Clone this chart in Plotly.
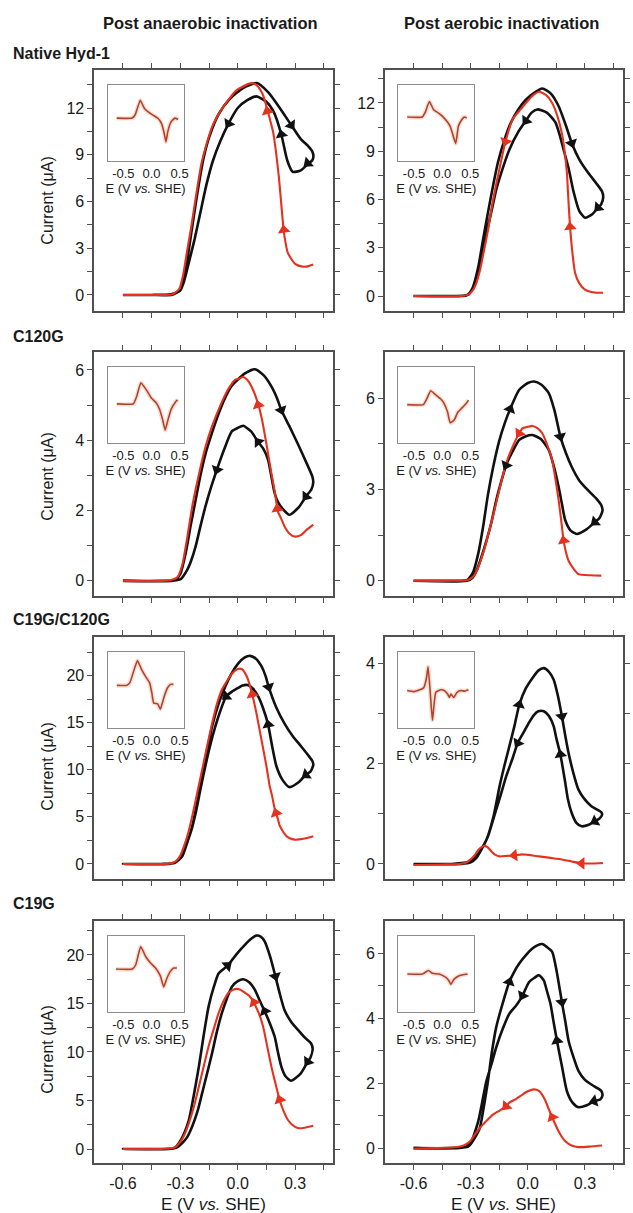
import math
import plotly.graph_objects as go

W, H = 633, 1213

# ------------------------------------------------------------------ DATA
col_titles = ["Post anaerobic inactivation", "Post aerobic inactivation"]
row_titles = ["Native Hyd-1", "C120G", "C19G/C120G", "C19G"]

x_tick_vals = [-0.6, -0.45, -0.3, -0.15, 0.0, 0.15, 0.3, 0.45]
x_tick_text = ["-0.6", "", "-0.3", "", "0.0", "", "0.3", ""]
inset_tick_vals = [-0.5, 0.0, 0.5]
inset_tick_text = ["-0.5", "0.0", "0.5"]

# Panel 1 : Native Hyd-1, anaerobic
p1_black_E = [-0.6, -0.45, -0.35, -0.3, -0.27, -0.24, -0.21, -0.18, -0.15, -0.1, -0.04, 0.03, 0.1, 0.16, 0.22, 0.28, 0.33, 0.365, 0.39, 0.396,
              0.39, 0.366, 0.33, 0.288, 0.26, 0.228, 0.19, 0.15, 0.098, 0.05, 0.0, -0.048, -0.09, -0.13, -0.165, -0.195, -0.225, -0.255, -0.28, -0.3, -0.34, -0.45, -0.6]
p1_black_I = [0, 0, 0.05, 0.3, 1.8, 4.2, 6.6, 8.7, 10.1, 11.6, 12.6, 13.3, 13.6, 13.0, 12.0, 10.9, 10.0, 9.6, 9.2, 8.9,
              8.65, 8.4, 8.0, 7.9, 8.6, 10.3, 11.7, 12.4, 12.75, 12.5, 12.0, 11.0, 9.9, 8.6, 7.0, 5.3, 3.6, 2.1, 0.9, 0.3, 0.02, 0, 0]
p1_red_E = [0.395, 0.37, 0.34, 0.3, 0.262, 0.248, 0.24, 0.228, 0.215, 0.2, 0.186, 0.17, 0.155, 0.13, 0.1, 0.072, 0.03, -0.01, -0.05, -0.09,
            -0.13, -0.16, -0.19, -0.22, -0.245, -0.265, -0.285, -0.305, -0.34, -0.4, -0.6]
p1_red_I = [1.95, 1.85, 1.82, 2.0, 2.7, 3.5, 4.2, 5.8, 7.6, 9.2, 10.4, 11.2, 11.9, 12.9, 13.45, 13.6, 13.4, 13.1, 12.5, 11.8,
            10.9, 9.8, 8.4, 6.2, 4.2, 2.8, 1.3, 0.4, 0.05, 0, 0]
p1_arrow_black_E = [0.28, 0.366, 0.228, -0.048]
p1_arrow_black_I = [10.9, 8.46, 10.3, 11.0]
p1_arrow_red_E = [0.155, 0.241]
p1_arrow_red_I = [11.8, 4.18]

# Panel 2 : Native Hyd-1, aerobic
p2_black_E = [-0.6, -0.4, -0.32, -0.29, -0.26, -0.235, -0.209, -0.18, -0.157, -0.12, -0.088, -0.05, -0.01, 0.03, 0.076, 0.12, 0.162, 0.2,
              0.231, 0.27, 0.317, 0.36, 0.39, 0.396,
              0.385, 0.369, 0.34, 0.3, 0.27, 0.24, 0.215, 0.197, 0.17, 0.145, 0.1, 0.05, 0.02, -0.01, -0.05, -0.097, -0.13, -0.166,
              -0.19, -0.217, -0.245, -0.269, -0.29, -0.31, -0.35, -0.6]
p2_black_I = [0, 0, 0.05, 0.5, 1.8, 3.5, 5.2, 7.0, 8.3, 9.8, 10.8, 11.6, 12.2, 12.6, 12.9, 12.6, 11.8, 10.6,
              9.5, 8.5, 7.66, 7.0, 6.5, 6.15,
              5.7, 5.5, 5.1, 4.87, 5.3, 6.5, 7.9, 8.7, 9.9, 10.8, 11.4, 11.6, 11.4, 10.9, 10.2, 9.1, 8.0, 6.6,
              5.3, 3.9, 2.3, 1.24, 0.5, 0.1, 0, 0]
p2_red_E = [0.395, 0.35, 0.3, 0.27, 0.248, 0.235, 0.222, 0.213, 0.205, 0.19, 0.179, 0.155, 0.128, 0.095, 0.059, 0.03, -0.01, -0.045,
            -0.079, -0.117, -0.157, -0.185, -0.209, -0.232, -0.252, -0.27, -0.286, -0.31, -0.35, -0.6]
p2_red_I = [0.2, 0.22, 0.4, 0.8, 1.45, 2.6, 4.3, 6.0, 7.7, 9.3, 10.1, 11.2, 12.0, 12.5, 12.7, 12.5, 12.0, 11.5,
            11.0, 9.6, 7.45, 5.8, 4.1, 2.7, 1.55, 0.8, 0.4, 0.1, 0, 0]
p2_arrow_black_E = [0.231, 0.369, -0.01]
p2_arrow_black_I = [9.5, 5.5, 10.9]
p2_arrow_red_E = [-0.117, 0.222]
p2_arrow_red_I = [9.6, 4.3]

# Panel 3 : C120G, anaerobic
p3_black_E = [-0.6, -0.4, -0.33, -0.3, -0.272, -0.245, -0.22, -0.195, -0.169, -0.135, -0.1, -0.066, -0.031, 0.038, 0.09, 0.135, 0.176,
              0.205, 0.228, 0.27, 0.314, 0.36, 0.39, 0.395,
              0.385, 0.357, 0.32, 0.27, 0.235, 0.21, 0.193, 0.175, 0.159, 0.135, 0.107, 0.07, 0.029, 0.0, -0.031, -0.07, -0.109,
              -0.14, -0.169, -0.195, -0.22, -0.245, -0.264, -0.298, -0.35, -0.6]
p3_black_I = [0, 0, 0.02, 0.2, 0.79, 1.6, 2.3, 3.0, 3.6, 4.2, 4.75, 5.2, 5.55, 5.9, 6.02, 5.85, 5.53,
              5.2, 4.86, 4.4, 3.9, 3.35, 2.97, 2.8,
              2.6, 2.4, 2.1, 1.88, 2.05, 2.25, 2.5, 3.0, 3.44, 3.75, 3.95, 4.25, 4.41, 4.35, 4.25, 3.75, 3.16,
              2.65, 2.11, 1.55, 0.98, 0.55, 0.31, 0.05, 0, 0]
p3_red_E = [0.395, 0.36, 0.33, 0.297, 0.27, 0.245, 0.225, 0.21, 0.195, 0.176, 0.15, 0.124, 0.1, 0.072, 0.05, 0.029, 0.005, -0.014,
            -0.05, -0.09, -0.134, -0.169, -0.2, -0.235, -0.265, -0.29, -0.315, -0.36, -0.6]
p3_red_I = [1.6, 1.45, 1.3, 1.26, 1.35, 1.55, 1.8, 1.97, 2.5, 3.06, 3.9, 4.67, 5.15, 5.53, 5.72, 5.8, 5.75, 5.72,
            5.45, 5.0, 4.4, 3.8, 3.1, 2.2, 1.2, 0.45, 0.1, 0.01, 0]
p3_arrow_black_E = [0.228, 0.357, 0.107, -0.109]
p3_arrow_black_I = [4.86, 2.4, 3.95, 3.16]
p3_arrow_red_E = [0.107, 0.207]
p3_arrow_red_I = [5.0, 2.05]

# Panel 4 : C120G, aerobic
p4_black_E = [-0.6, -0.4, -0.32, -0.3, -0.286, -0.26, -0.234, -0.21, -0.183, -0.15, -0.12, -0.093, -0.045, 0.0, 0.033, 0.07, 0.11,
              0.14, 0.171, 0.2, 0.231, 0.27, 0.317, 0.36, 0.386, 0.392,
              0.375, 0.352, 0.31, 0.257, 0.225, 0.197, 0.18, 0.162, 0.135, 0.11, 0.07, 0.024, -0.01, -0.045, -0.08, -0.114,
              -0.14, -0.166, -0.19, -0.217, -0.245, -0.269, -0.29, -0.32, -0.6]
p4_black_I = [0, 0, 0.02, 0.15, 0.3, 0.9, 1.8, 2.8, 3.7, 4.6, 5.2, 5.64, 6.28, 6.5, 6.55, 6.45, 6.17,
              5.6, 4.74, 4.2, 3.74, 3.3, 2.97, 2.7, 2.48, 2.3,
              2.05, 1.93, 1.7, 1.54, 1.65, 1.98, 2.5, 3.08, 3.8, 4.3, 4.65, 4.79, 4.75, 4.63, 4.25, 3.8,
              3.25, 2.64, 1.95, 1.32, 0.75, 0.33, 0.1, 0.0, 0]
p4_red_E = [0.386, 0.33, 0.266, 0.24, 0.214, 0.2, 0.188, 0.175, 0.162, 0.145, 0.128, 0.1, 0.076, 0.05, 0.024, 0.0, -0.028, -0.045,
            -0.08, -0.114, -0.145, -0.17, -0.2, -0.23, -0.26, -0.285, -0.32, -0.4, -0.6]
p4_red_I = [0.17, 0.18, 0.22, 0.4, 0.66, 0.95, 1.32, 2.0, 2.64, 3.35, 3.96, 4.5, 4.85, 5.02, 5.09, 5.06, 5.01, 4.85,
            4.4, 3.85, 3.1, 2.45, 1.7, 1.0, 0.45, 0.15, 0.02, 0, 0]
p4_arrow_black_E = [-0.093, 0.171, 0.352, -0.114]
p4_arrow_black_I = [5.64, 4.74, 1.93, 3.8]
p4_arrow_red_E = [0.188, -0.045]
p4_arrow_red_I = [1.32, 4.85]

# Panel 5 : C19G/C120G, anaerobic
p5_black_E = [-0.6, -0.4, -0.33, -0.31, -0.29, -0.265, -0.238, -0.21, -0.186, -0.16, -0.134, -0.1, -0.066, -0.03, 0.003, 0.035, 0.064,
              0.095, 0.124, 0.145, 0.162, 0.2, 0.245, 0.29, 0.331, 0.37, 0.391, 0.395,
              0.38, 0.357, 0.32, 0.271, 0.235, 0.202, 0.18, 0.159, 0.13, 0.107, 0.08, 0.052, 0.025, 0.003, -0.03, -0.06, -0.09,
              -0.117, -0.145, -0.169, -0.195, -0.22, -0.245, -0.272, -0.295, -0.316, -0.35, -0.6]
p5_black_I = [0, 0, 0.1, 0.4, 0.81, 2.2, 4.0, 6.7, 9.3, 12.1, 14.6, 17.0, 18.8, 20.3, 21.3, 21.9, 22.1,
              21.8, 21.0, 20.0, 18.8, 16.7, 14.9, 13.5, 12.5, 11.5, 10.9, 10.5,
              9.8, 9.47, 8.7, 8.16, 8.9, 10.4, 12.5, 14.8, 16.7, 17.8, 18.6, 19.0, 18.95, 18.7, 18.3, 17.8, 16.3,
              14.6, 12.5, 10.4, 7.9, 5.4, 3.4, 1.87, 0.8, 0.28, 0.03, 0]
p5_red_E = [0.395, 0.35, 0.297, 0.27, 0.253, 0.235, 0.219, 0.207, 0.193, 0.18, 0.167, 0.15, 0.124, 0.098, 0.076, 0.05, 0.021, 0.0,
            -0.031, -0.06, -0.083, -0.11, -0.134, -0.16, -0.186, -0.212, -0.238, -0.26, -0.281, -0.3, -0.324, -0.36, -0.6]
p5_red_I = [2.95, 2.7, 2.58, 2.75, 3.0, 3.5, 4.1, 5.0, 5.9, 7.2, 8.3, 10.4, 13.2, 16.0, 18.0, 19.8, 20.7, 20.7,
            20.2, 19.3, 18.5, 16.9, 14.9, 12.5, 10.0, 7.5, 5.05, 3.2, 1.87, 0.9, 0.28, 0.03, 0]
p5_arrow_black_E = [0.162, 0.357, 0.159, -0.06]
p5_arrow_black_I = [18.8, 9.47, 14.8, 17.8]
p5_arrow_red_E = [0.076, 0.2]
p5_arrow_red_I = [18.0, 5.4]

# Panel 6 : C19G/C120G, aerobic
p6_black_E = [-0.6, -0.4, -0.3, -0.26, -0.243, -0.217, -0.18, -0.148, -0.12, -0.097, -0.07, -0.045, -0.01, 0.024, 0.055, 0.084, 0.11,
              0.136, 0.158, 0.179, 0.197, 0.214, 0.24, 0.266, 0.3, 0.334, 0.37, 0.386, 0.39,
              0.375, 0.352, 0.32, 0.283, 0.255, 0.231, 0.21, 0.197, 0.171, 0.15, 0.136, 0.11, 0.084, 0.055, 0.033, 0.007, -0.019,
              -0.053, -0.08, -0.114, -0.14, -0.166, -0.19, -0.209, -0.243, -0.27, -0.3, -0.35, -0.6]
p6_black_I = [0, 0, 0.05, 0.2, 0.3, 0.48, 0.95, 1.55, 2.0, 2.34, 2.75, 3.17, 3.5, 3.7, 3.85, 3.9, 3.83,
              3.67, 3.35, 2.94, 2.55, 2.21, 1.8, 1.48, 1.28, 1.15, 1.07, 1.03, 0.98,
              0.9, 0.85, 0.78, 0.75, 0.82, 1.01, 1.3, 1.61, 2.18, 2.5, 2.74, 2.95, 3.04, 3.04, 2.97, 2.82, 2.64,
              2.41, 2.1, 1.74, 1.4, 1.08, 0.78, 0.55, 0.29, 0.12, 0.03, 0, 0]
p6_red_E = [0.395, 0.34, 0.283, 0.23, 0.179, 0.12, 0.059, 0.0, -0.028, -0.071, -0.11, -0.148, -0.17, -0.191, -0.21, -0.226, -0.245,
            -0.26, -0.28, -0.303, -0.33, -0.36, -0.45, -0.6]
p6_red_I = [0.02, 0.01, 0.01, 0.05, 0.09, 0.12, 0.15, 0.18, 0.19, 0.17, 0.16, 0.15, 0.18, 0.25, 0.33, 0.36, 0.33,
            0.28, 0.17, 0.08, 0.02, 0.0, -0.01, -0.02]
p6_arrow_black_E = [-0.045, 0.179, 0.352, 0.171, -0.053]
p6_arrow_black_I = [3.17, 2.94, 0.85, 2.18, 2.41]
p6_arrow_red_E = [0.283, -0.071]
p6_arrow_red_I = [0.01, 0.17]

# Panel 7 : C19G, anaerobic
p7_black_E = [-0.6, -0.4, -0.33, -0.307, -0.28, -0.255, -0.23, -0.203, -0.178, -0.152, -0.125, -0.1, -0.053, -0.025, 0.003, 0.04, 0.072,
              0.098, 0.12, 0.141, 0.17, 0.197, 0.22, 0.245, 0.28, 0.314, 0.35, 0.383, 0.392,
              0.38, 0.366, 0.33, 0.279, 0.25, 0.228, 0.21, 0.193, 0.165, 0.141, 0.115, 0.09, 0.06, 0.029, 0.0, -0.031, -0.055,
              -0.083, -0.11, -0.134, -0.16, -0.186, -0.21, -0.238, -0.265, -0.29, -0.32, -0.36, -0.6]
p7_black_I = [0, 0, 0.1, 0.62, 1.6, 3.0, 5.5, 8.5, 11.7, 14.7, 16.7, 18.1, 18.9, 19.6, 20.3, 21.1, 21.7,
              22.0, 21.9, 21.4, 19.8, 17.8, 16.0, 14.3, 13.1, 12.3, 11.5, 10.9, 10.3,
              9.4, 9.0, 7.8, 7.03, 7.5, 8.5, 10.0, 11.6, 13.1, 14.2, 15.3, 16.4, 17.2, 17.5, 17.3, 16.7, 15.6,
              14.0, 12.0, 9.88, 7.8, 5.76, 3.9, 2.33, 1.2, 0.62, 0.15, 0.02, 0]
p7_red_E = [0.395, 0.35, 0.314, 0.285, 0.262, 0.24, 0.219, 0.198, 0.176, 0.155, 0.133, 0.11, 0.081, 0.06, 0.038, 0.015, -0.005, -0.025,
            -0.048, -0.075, -0.1, -0.125, -0.152, -0.178, -0.203, -0.23, -0.255, -0.278, -0.298, -0.32, -0.34, -0.4, -0.6]
p7_red_I = [2.4, 2.2, 2.16, 2.5, 3.02, 3.9, 5.08, 6.7, 8.5, 10.5, 12.6, 14.0, 15.2, 15.8, 16.1, 16.4, 16.5, 16.4,
            16.1, 15.2, 14.0, 12.4, 10.6, 8.5, 6.45, 4.3, 2.68, 1.5, 0.79, 0.3, 0.1, 0, 0]
p7_arrow_black_E = [-0.053, 0.197, 0.366, 0.141]
p7_arrow_black_I = [18.9, 17.8, 9.0, 14.2]
p7_arrow_red_E = [0.085, 0.219]
p7_arrow_red_I = [15.1, 5.08]

# Panel 8 : C19G, aerobic
p8_black_E = [-0.6, -0.4, -0.32, -0.303, -0.28, -0.252, -0.23, -0.209, -0.19, -0.166, -0.13, -0.097, -0.07, -0.045, -0.01, 0.024, 0.05,
              0.076, 0.1, 0.128, 0.15, 0.179, 0.197, 0.214, 0.24, 0.266, 0.3, 0.334, 0.365, 0.386, 0.392,
              0.38, 0.348, 0.31, 0.266, 0.235, 0.205, 0.18, 0.153, 0.135, 0.119, 0.1, 0.084, 0.059, 0.035, 0.007, -0.028, -0.06,
              -0.097, -0.13, -0.166, -0.19, -0.217, -0.24, -0.26, -0.28, -0.295, -0.32, -0.36, -0.6]
p8_black_I = [0, 0, 0.03, 0.1, 0.3, 0.62, 1.3, 2.07, 2.9, 3.72, 4.5, 5.12, 5.45, 5.69, 5.95, 6.15, 6.25,
              6.29, 6.2, 6.05, 5.5, 4.5, 3.9, 3.31, 2.8, 2.38, 2.1, 1.96, 1.85, 1.76, 1.62,
              1.5, 1.45, 1.32, 1.26, 1.4, 1.76, 2.5, 3.31, 3.9, 4.45, 4.85, 5.17, 5.33, 5.25, 5.12, 4.7, 4.4,
              4.14, 3.7, 3.1, 2.6, 2.07, 1.4, 0.83, 0.45, 0.21, 0.05, 0, 0]
p8_red_E = [0.39, 0.33, 0.266, 0.23, 0.197, 0.175, 0.153, 0.128, 0.11, 0.093, 0.075, 0.059, 0.033, 0.0, -0.028, -0.06, -0.097, -0.114,
            -0.15, -0.183, -0.22, -0.252, -0.28, -0.303, -0.33, -0.355, -0.4, -0.5, -0.6]
p8_red_I = [0.08, 0.05, 0.03, 0.08, 0.21, 0.38, 0.62, 0.95, 1.2, 1.45, 1.65, 1.76, 1.81, 1.75, 1.65, 1.52, 1.4, 1.29,
            1.15, 1.03, 0.82, 0.62, 0.4, 0.21, 0.1, 0.05, 0.02, 0.0, -0.02]
p8_arrow_black_E = [-0.097, 0.179, 0.348, 0.153, -0.028]
p8_arrow_black_I = [5.12, 4.5, 1.45, 3.31, 4.7]
p8_arrow_red_E = [0.128, -0.114]
p8_arrow_red_I = [0.95, 1.29]

# y-axis ranges and labelled ticks for the 8 main panels
y_ranges = [[-1.03, 14.44], [-0.93, 14.05], [-0.43, 6.51], [-0.5, 7.52],
            [-1.6, 24.1], [-0.3, 4.52], [-1.44, 23.5], [-0.46, 7.0]]
y_major = [[0, 3, 6, 9, 12], [0, 3, 6, 9, 12], [0, 2, 4, 6], [0, 3, 6],
           [0, 5, 10, 15, 20], [0, 2, 4], [0, 5, 10, 15, 20], [0, 2, 4, 6]]

# Insets (baseline-subtracted signal, arbitrary units)
in1_E = [-0.62, -0.345, -0.29, -0.2, -0.16, -0.123, -0.053, 0.035, 0.123, 0.181, 0.222, 0.257, 0.29, 0.345, 0.415, 0.474]
in1_S = [0, 0, 1.0, 5.3, 4.0, 2.8, 1.8, 0.8, -0.2, -1.7, -4.2, -7.0, -4.0, -1.2, 0, -0.4]
in2_E = [-0.622, -0.357, -0.3, -0.228, -0.152, -0.064, 0.006, 0.084, 0.142, 0.172, 0.21, 0.242, 0.288, 0.348, 0.394, 0.436]
in2_S = [0, 0, 1.5, 4.7, 2.2, 1.2, 0.2, -1.3, -2.8, -4.3, -6.5, -8.0, -2.8, -0.8, 0, -0.3]
in3_E = [-0.616, -0.324, -0.26, -0.189, -0.089, -0.002, 0.086, 0.144, 0.202, 0.244, 0.29, 0.349, 0.437, 0.465]
in3_S = [0, 0, 2.5, 6.6, 4.3, 1.8, 0.3, -1.7, -5.2, -8.2, -5.2, -1.7, 0.8, 1.3]
in4_E = [-0.623, -0.335, -0.27, -0.204, -0.114, -0.024, 0.035, 0.097, 0.143, 0.215, 0.277, 0.367, 0.426, 0.467]
in4_S = [0, 0, 1.8, 4.0, 2.8, 1.6, 0.3, -2.2, -5.2, -4.4, -2.2, -0.7, 0.3, 1.3]
in5_E = [-0.617, -0.443, -0.385, -0.25, -0.18, -0.093, -0.034, 0.006, 0.04, 0.11, 0.157, 0.227, 0.286, 0.34, 0.39]
in5_S = [0, 0, 0.8, 7.3, 4.8, 2.3, 0.8, -2.2, -5.2, -5.4, -7.0, -3.2, -0.7, 0.3, 0.3]
in6_E = [-0.623, -0.5, -0.353, -0.323, -0.28, -0.251, -0.21, -0.173, -0.113, -0.023, 0.037, 0.097, 0.127, 0.157, 0.205, 0.265, 0.337, 0.397, 0.467]
in6_S = [0, -0.3, 0.5, 1.0, 3.5, 6.8, -1.0, -8.5, -0.5, 0.2, 0, -1.0, -2.0, -1.0, -2.0, -0.5, 0, -0.2, 0.2]
in7_E = [-0.632, -0.34, -0.28, -0.192, -0.104, -0.016, 0.072, 0.13, 0.16, 0.218, 0.276, 0.336, 0.394, 0.452]
in7_S = [0, 0, 1.3, 6.8, 3.8, 1.8, 0.3, -1.2, -2.2, -5.4, -2.7, -0.7, 0.3, 0.3]
in8_E = [-0.62, -0.351, -0.244, -0.173, -0.054, 0.065, 0.113, 0.154, 0.213, 0.302, 0.452]
in8_S = [0, 0, 1.0, 0.2, 0, -1.0, -1.8, -3.0, -1.5, -0.5, 0]
inset_y_ranges = [[-12.7, 9.8], [-13.3, 9.7], [-12.2, 11.5], [-11, 10.8],
                  [-12.5, 9.8], [-10.7, 11], [-13, 10], [-11, 11]]

# ------------------------------------------------------------------ STYLE / LAYOUT
FONT = "Liberation Sans, Arial, Helvetica, sans-serif"
BLACK = "#111111"
RED = "#e4321e"
FRAME = "#505050"
INSET_LINE = "#b0432e"

col_px = [(95, 336), (388, 628)]
row_px = [(70, 311), (352, 596), (637, 879), (921, 1163)]
ytitle_px = [201, 477, 767, 1050]
rowlabel_px = [54, 337, 619, 903]

panels = [
    (p1_black_E, p1_black_I, p1_red_E, p1_red_I, p1_arrow_black_E, p1_arrow_black_I, p1_arrow_red_E, p1_arrow_red_I),
    (p2_black_E, p2_black_I, p2_red_E, p2_red_I, p2_arrow_black_E, p2_arrow_black_I, p2_arrow_red_E, p2_arrow_red_I),
    (p3_black_E, p3_black_I, p3_red_E, p3_red_I, p3_arrow_black_E, p3_arrow_black_I, p3_arrow_red_E, p3_arrow_red_I),
    (p4_black_E, p4_black_I, p4_red_E, p4_red_I, p4_arrow_black_E, p4_arrow_black_I, p4_arrow_red_E, p4_arrow_red_I),
    (p5_black_E, p5_black_I, p5_red_E, p5_red_I, p5_arrow_black_E, p5_arrow_black_I, p5_arrow_red_E, p5_arrow_red_I),
    (p6_black_E, p6_black_I, p6_red_E, p6_red_I, p6_arrow_black_E, p6_arrow_black_I, p6_arrow_red_E, p6_arrow_red_I),
    (p7_black_E, p7_black_I, p7_red_E, p7_red_I, p7_arrow_black_E, p7_arrow_black_I, p7_arrow_red_E, p7_arrow_red_I),
    (p8_black_E, p8_black_I, p8_red_E, p8_red_I, p8_arrow_black_E, p8_arrow_black_I, p8_arrow_red_E, p8_arrow_red_I),
]
insets = [(in1_E, in1_S), (in2_E, in2_S), (in3_E, in3_S), (in4_E, in4_S),
          (in5_E, in5_S), (in6_E, in6_S), (in7_E, in7_S), (in8_E, in8_S)]

X_RANGE = [-0.75, 0.5]
INSET_X_RANGE = [-0.78, 0.57]


def arrow_angles(E, I, aE, aI, sx, sy):
    out = []
    for xa, ya in zip(aE, aI):
        best = None
        px, py = xa * sx, ya * sy
        for k in range(len(E) - 1):
            x1, y1 = E[k] * sx, I[k] * sy
            x2, y2 = E[k + 1] * sx, I[k + 1] * sy
            dx, dy = x2 - x1, y2 - y1
            L2 = dx * dx + dy * dy
            if L2 == 0:
                continue
            t = max(0.0, min(1.0, ((px - x1) * dx + (py - y1) * dy) / L2))
            d = (x1 + t * dx - px) ** 2 + (y1 + t * dy - py) ** 2
            if best is None or d < best[0]:
                best = (d, dx, dy)
        out.append(math.degrees(math.atan2(best[1], best[2])))
    return out


fig = go.Figure()
layout = dict(width=W, height=H, margin=dict(l=0, r=0, t=0, b=0),
              paper_bgcolor="white", plot_bgcolor="white", showlegend=False,
              font=dict(family=FONT, color="#1a1a1a"))
annotations = []

for i in range(8):
    r, c = divmod(i, 2)
    ax = i + 1
    xs = "" if ax == 1 else str(ax)
    x0, x1 = col_px[c]
    y0, y1 = row_px[r]
    dom_x = [x0 / W, x1 / W]
    dom_y = [1 - y1 / H, 1 - y0 / H]
    yr = y_ranges[i]
    sx = (x1 - x0) / (X_RANGE[1] - X_RANGE[0])
    sy = (y1 - y0) / (yr[1] - yr[0])

    bE, bI, rE, rI, abE, abI, arE, arI = panels[i]
    fig.add_trace(go.Scatter(x=bE, y=bI, mode="lines", xaxis="x" + xs, yaxis="y" + xs,
                             line=dict(color=BLACK, width=2.6, shape="spline", smoothing=0.6), hoverinfo="skip"))
    fig.add_trace(go.Scatter(x=rE, y=rI, mode="lines", xaxis="x" + xs, yaxis="y" + xs,
                             line=dict(color=RED, width=2.1, shape="spline", smoothing=0.6), hoverinfo="skip"))
    fig.add_trace(go.Scatter(x=abE, y=abI, mode="markers", xaxis="x" + xs, yaxis="y" + xs,
                             marker=dict(symbol="triangle-up", size=11, color=BLACK,
                                         angle=arrow_angles(bE, bI, abE, abI, sx, sy)), hoverinfo="skip"))
    fig.add_trace(go.Scatter(x=arE, y=arI, mode="markers", xaxis="x" + xs, yaxis="y" + xs,
                             marker=dict(symbol="triangle-up", size=11, color=RED,
                                         angle=arrow_angles(rE, rI, arE, arI, sx, sy)), hoverinfo="skip"))

    majors = y_major[i]
    step = majors[1] - majors[0]
    minors = [m + step / 2 for m in majors if m + step / 2 < yr[1] - 0.02 * (yr[1] - yr[0])]
    yvals = sorted(majors + minors)
    ytext = [str(v) if v in majors else "" for v in yvals]

    layout["xaxis" + xs] = dict(domain=dom_x, range=X_RANGE, anchor="y" + xs,
                                tickvals=x_tick_vals, ticktext=x_tick_text,
                                showticklabels=(r == 3), tickfont=dict(size=16, family=FONT, color="#1a1a1a"),
                                ticks="outside", ticklen=5, tickwidth=1.4, tickcolor=FRAME,
                                showline=True, linecolor=FRAME, linewidth=1.6, mirror="ticks",
                                showgrid=False, zeroline=False, fixedrange=True)
    layout["yaxis" + xs] = dict(domain=dom_y, range=yr, anchor="x" + xs,
                                tickvals=yvals, ticktext=ytext,
                                tickfont=dict(size=16, family=FONT, color="#1a1a1a"),
                                ticks="outside", ticklen=5, tickwidth=1.4, tickcolor=FRAME,
                                showline=True, linecolor=FRAME, linewidth=1.6, mirror="ticks",
                                showgrid=False, zeroline=False, fixedrange=True)

# insets
for i in range(8):
    r, c = divmod(i, 2)
    ax = 9 + i
    xs = str(ax)
    fx0 = col_px[c][0]
    fy0 = row_px[r][0]
    ix0, ix1 = fx0 + 13.5, fx0 + 90
    iy0, iy1 = fy0 + 15, fy0 + 91
    E, S = insets[i]
    fig.add_trace(go.Scatter(x=E, y=S, mode="lines", xaxis="x" + xs, yaxis="y" + xs,
                             line=dict(color="rgba(235,160,130,0.35)", width=4.5, shape="spline", smoothing=0.4),
                             hoverinfo="skip"))
    fig.add_trace(go.Scatter(x=E, y=S, mode="lines", xaxis="x" + xs, yaxis="y" + xs,
                             line=dict(color=INSET_LINE, width=1.6, shape="spline", smoothing=0.4),
                             hoverinfo="skip"))
    layout["xaxis" + xs] = dict(domain=[ix0 / W, ix1 / W], range=INSET_X_RANGE, anchor="y" + xs,
                                tickvals=inset_tick_vals, ticktext=inset_tick_text, ticks="",
                                tickfont=dict(size=13, family=FONT, color="#1a1a1a"),
                                showline=True, linecolor="#8c8c8c", linewidth=1.1, mirror=True,
                                showgrid=False, zeroline=False, fixedrange=True,
                                title=dict(text="E (V <i>vs.</i> SHE)", font=dict(size=13, family=FONT, color="#1a1a1a"),
                                           standoff=1))
    layout["yaxis" + xs] = dict(domain=[1 - iy1 / H, 1 - iy0 / H], range=inset_y_ranges[i], anchor="x" + xs,
                                showticklabels=False, ticks="", showline=True, linecolor="#8c8c8c",
                                linewidth=1.1, mirror=True, showgrid=False, zeroline=False, fixedrange=True)

# texts
for c, t in enumerate(col_titles):
    cx = (col_px[c][0] + col_px[c][1]) / 2 - 3
    annotations.append(dict(text="<b>" + t + "</b>", x=cx / W, y=1 - 23 / H, xref="paper", yref="paper",
                            showarrow=False, xanchor="center", yanchor="middle",
                            font=dict(size=16.5, family=FONT, color="#1a1a1a")))
for r, t in enumerate(row_titles):
    annotations.append(dict(text="<b>" + t + "</b>", x=11 / W, y=1 - rowlabel_px[r] / H, xref="paper", yref="paper",
                            showarrow=False, xanchor="left", yanchor="middle",
                            font=dict(size=16, family=FONT, color="#1a1a1a")))
    annotations.append(dict(text="Current (μA)", x=47 / W, y=1 - ytitle_px[r] / H, xref="paper", yref="paper",
                            showarrow=False, xanchor="center", yanchor="middle", textangle=-90,
                            font=dict(size=16, family=FONT, color="#1a1a1a")))
for c in range(2):
    cx = (col_px[c][0] + col_px[c][1]) / 2
    annotations.append(dict(text="E (V <i>vs.</i> SHE)", x=cx / W, y=1 - 1204 / H, xref="paper", yref="paper",
                            showarrow=False, xanchor="center", yanchor="middle",
                            font=dict(size=17, family=FONT, color="#1a1a1a")))

layout["annotations"] = annotations
fig.update_layout(**layout)
fig.write_html("out.html")
